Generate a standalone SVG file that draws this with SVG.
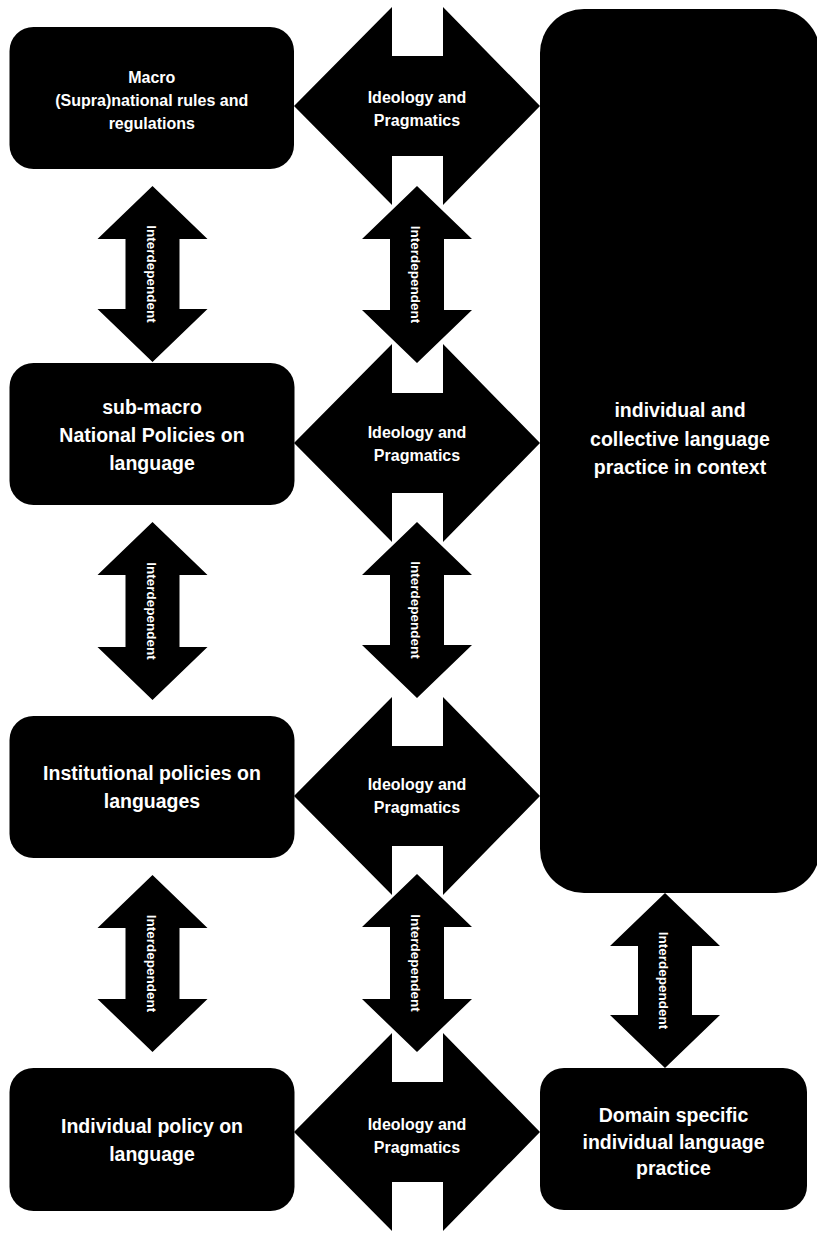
<svg xmlns="http://www.w3.org/2000/svg" width="817" height="1236" viewBox="0 0 817 1236">
<style>
.box{fill:#000}
.arr{fill:#000}
.t{font-family:"Liberation Sans",Arial,sans-serif;font-weight:bold;fill:#fff;text-anchor:middle}
.tb{font-size:19.5px}
.ts{font-size:16px}
.ti{font-size:13.5px}
</style>
<rect width="817" height="1236" fill="#fff"/>
<g id="connectors">
  <g id="ideo1">
    <path class="arr" d="M294,106 L392,7 L392,56 L443,56 L443,7 L540,106 L443,205 L443,156 L392,156 L392,205 Z"/>
    <text class="t ts" x="417" y="103">Ideology and</text>
    <text class="t ts" x="417" y="126">Pragmatics</text>
  </g>
  <g id="ideo2">
    <path class="arr" d="M294,443 L392,344 L392,393 L443,393 L443,344 L540,443 L443,542 L443,493 L392,493 L392,542 Z"/>
    <text class="t ts" x="417" y="438">Ideology and</text>
    <text class="t ts" x="417" y="461">Pragmatics</text>
  </g>
  <g id="ideo3">
    <path class="arr" d="M294,796 L392,697 L392,746 L443,746 L443,697 L540,796 L443,895 L443,846 L392,846 L392,895 Z"/>
    <text class="t ts" x="417" y="790">Ideology and</text>
    <text class="t ts" x="417" y="813">Pragmatics</text>
  </g>
  <g id="ideo4">
    <path class="arr" d="M294,1132 L392,1033 L392,1082 L443,1082 L443,1033 L540,1132 L443,1231 L443,1182 L392,1182 L392,1231 Z"/>
    <text class="t ts" x="417" y="1130">Ideology and</text>
    <text class="t ts" x="417" y="1153">Pragmatics</text>
  </g>
  <g id="inter-left1">
    <path class="arr" d="M152.5,186 L207.5,239 L179.5,239 L179.5,309 L207.5,309 L152.5,362 L97.5,309 L125.5,309 L125.5,239 L97.5,239 Z"/>
    <text class="t ti" transform="translate(146.5,274) rotate(90)">Interdependent</text>
  </g>
  <g id="inter-left2">
    <path class="arr" d="M152.5,522 L207.5,575 L179.5,575 L179.5,647 L207.5,647 L152.5,700 L97.5,647 L125.5,647 L125.5,575 L97.5,575 Z"/>
    <text class="t ti" transform="translate(146.5,611) rotate(90)">Interdependent</text>
  </g>
  <g id="inter-left3">
    <path class="arr" d="M152.5,875 L207.5,928 L179.5,928 L179.5,999 L207.5,999 L152.5,1052 L97.5,999 L125.5,999 L125.5,928 L97.5,928 Z"/>
    <text class="t ti" transform="translate(146.5,963.5) rotate(90)">Interdependent</text>
  </g>
  <g id="inter-mid1">
    <path class="arr" d="M417,186 L472,239 L444,239 L444,310 L472,310 L417,363 L362,310 L390,310 L390,239 L362,239 Z"/>
    <text class="t ti" transform="translate(411,274.5) rotate(90)">Interdependent</text>
  </g>
  <g id="inter-mid2">
    <path class="arr" d="M417,522 L472,575 L444,575 L444,645 L472,645 L417,698 L362,645 L390,645 L390,575 L362,575 Z"/>
    <text class="t ti" transform="translate(411,610) rotate(90)">Interdependent</text>
  </g>
  <g id="inter-mid3">
    <path class="arr" d="M417,874 L472,927 L444,927 L444,999 L472,999 L417,1052 L362,999 L390,999 L390,927 L362,927 Z"/>
    <text class="t ti" transform="translate(411,963) rotate(90)">Interdependent</text>
  </g>
  <g id="inter-right">
    <path class="arr" d="M665,893 L720,946 L692,946 L692,1015 L720,1015 L665,1068 L610,1015 L638,1015 L638,946 L610,946 Z"/>
    <text class="t ti" transform="translate(659,980.5) rotate(90)">Interdependent</text>
  </g>
</g>
<g id="macro">
  <rect class="box" x="9.5" y="27" width="284.5" height="142" rx="24"/>
  <text class="t ts" x="151.75" y="83">Macro</text>
  <text class="t ts" x="151.75" y="106">(Supra)national rules and</text>
  <text class="t ts" x="151.75" y="129">regulations</text>
</g>
<g id="submacro">
  <rect class="box" x="9.5" y="363" width="285" height="142" rx="24"/>
  <text class="t tb" x="152" y="414">sub-macro</text>
  <text class="t tb" x="152" y="442">National Policies on</text>
  <text class="t tb" x="152" y="470">language</text>
</g>
<g id="institutional">
  <rect class="box" x="9.5" y="716" width="285" height="142" rx="24"/>
  <text class="t tb" x="152" y="780">Institutional policies on</text>
  <text class="t tb" x="152" y="808">languages</text>
</g>
<g id="individual">
  <rect class="box" x="9.5" y="1068" width="285" height="143" rx="24"/>
  <text class="t tb" x="152" y="1133">Individual policy on</text>
  <text class="t tb" x="152" y="1161">language</text>
</g>
<g id="practice">
  <rect class="box" x="540" y="9" width="280" height="884" rx="44"/>
  <text class="t tb" x="680" y="417">individual and</text>
  <text class="t tb" x="680" y="446">collective language</text>
  <text class="t tb" x="680" y="474">practice in context</text>
</g>
<g id="domain">
  <rect class="box" x="540" y="1068" width="267" height="142" rx="24"/>
  <text class="t tb" x="673.5" y="1122">Domain specific</text>
  <text class="t tb" x="673.5" y="1149">individual language</text>
  <text class="t tb" x="673.5" y="1175">practice</text>
</g>
</svg>
